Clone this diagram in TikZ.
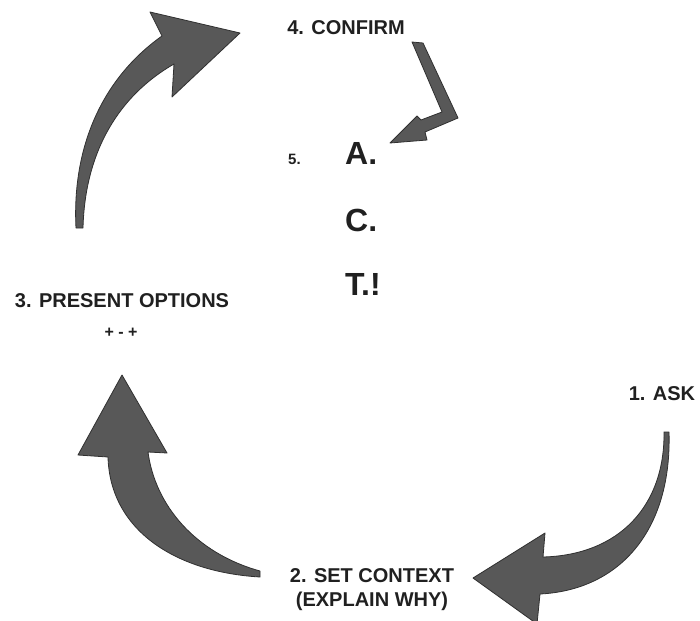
\documentclass[tikz,border=0pt]{standalone}
\usepackage{fontspec}
\setmainfont{Liberation Sans}
\definecolor{arrowgray}{RGB}{88,88,88}
\definecolor{arrowedge}{RGB}{48,48,48}
\definecolor{textdark}{RGB}{32,32,32}
\begin{document}
\begin{tikzpicture}[x=1pt,y=-1pt,
  bigarrow/.style={fill=arrowgray, draw=arrowedge, line width=0.8pt, line join=round},
  lbl/.style={font=\bfseries\fontsize{20}{24}\selectfont, text=textdark, inner sep=0pt},
  small/.style={font=\bfseries\fontsize{15}{18}\selectfont, text=textdark, inner sep=0pt},
  pm/.style={font=\bfseries\fontsize{16}{18}\selectfont, text=textdark, inner sep=0pt},
  letter/.style={font=\bfseries\fontsize{32}{36}\selectfont, text=textdark, inner sep=0pt}]
\useasboundingbox (0,0) rectangle (700,620);
\fill[white] (0,0) rectangle (700,620);
\clip (0,0) rectangle (700,620);

% arrow 3 -> 4 (top left)
\path[bigarrow] (76,228) .. controls (72,150) and (100,80) .. (162,36) -- (150,12) -- (240,33) -- (172,97) -- (174,64) .. controls (120,95) and (85,150) .. (83,228) -- cycle;
% arrow 2 -> 3 (bottom left)
\path[bigarrow] (260,577) .. controls (175,572) and (110,530) .. (108,457) -- (78,455) -- (122,375) -- (167,453) -- (148,452) .. controls (155,505) and (195,553) .. (260,571) -- cycle;
% arrow 1 -> 2 (bottom right)
\path[bigarrow] (664,432) .. controls (665,505) and (620,555) .. (543,557) -- (545,533) -- (473,578) -- (537,624) -- (540,594) .. controls (620,590) and (672,530) .. (669,432) -- cycle;
% arrow 4 -> 5 (small)
\path[bigarrow] (412,42) -- (423,43) -- (458,118) -- (425,132) -- (427,140) -- (390,143) -- (417,116) -- (421,120) -- (442,112) -- cycle;

\node[lbl, anchor=base] (confirm) at (346,35) {4. CONFIRM};
\node[lbl, anchor=base] (present) at (122,307) {3. PRESENT OPTIONS};
\node[pm, anchor=base] (pros) at (121,337) {+ - +};
\node[lbl, anchor=base] (ask) at (662,400) {1. ASK};
\node[lbl, anchor=base] (setctx) at (372,582) {2. SET CONTEXT};
\node[lbl, anchor=base] (why) at (372,606) {(EXPLAIN WHY)};
\node[small, anchor=base west] (five) at (288,165) {5.};
\node[letter, anchor=base west] (la) at (345,165) {A.};
\node[letter, anchor=base west] (lc) at (345,231) {C.};
\node[letter, anchor=base west] (lt) at (345,295) {T.!};
\end{tikzpicture}
\end{document}
